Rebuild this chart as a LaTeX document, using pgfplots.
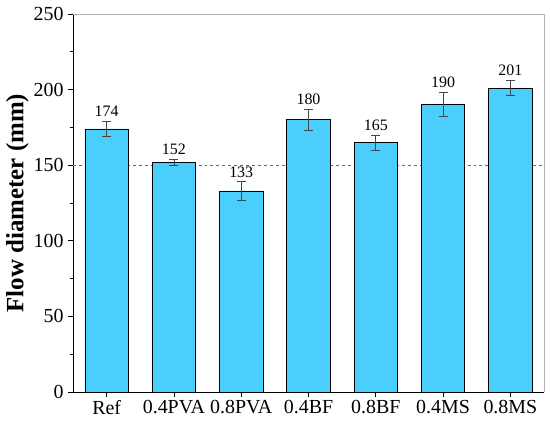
\documentclass[border=0pt]{standalone}
\usepackage{fontspec}
\setmainfont{Liberation Serif}
\usepackage{pgfplots}
\pgfplotsset{compat=1.18}
\definecolor{barc}{RGB}{74,207,253}
\definecolor{errc}{RGB}{70,70,70}
\begin{document}
\begin{tikzpicture}
\begin{axis}[
  at={(0,0)}, anchor=south west,
  scale only axis,
  width=471bp, height=378bp,
  xmin=-0.5, xmax=6.5,
  ymin=0, ymax=250,
  ytick={0,50,100,150,200,250},
  minor y tick num=1,
  xtick={0,1,2,3,4,5,6},
  xticklabels={Ref,0.4PVA,0.8PVA,0.4BF,0.8BF,0.4MS,0.8MS},
  tick align=outside,
  xtick pos=bottom, ytick pos=left,
  major tick length=5bp, minor tick length=3bp,
  tick style={black, line width=0.8pt},
  axis line style={line width=0.9pt},
  axis x line*=bottom, axis y line*=left,
  /pgf/number format/assume math mode=true,
  ticklabel style={font=\fontsize{20}{23}\selectfont},
  yticklabel style={xshift=-1bp},
  ylabel={\textbf{Flow diameter (mm)}},
  ylabel style={font=\fontsize{25}{28}\selectfont, yshift=-2bp},
  clip=false,
]
\draw[gray!60, line width=0.8pt] (rel axis cs:0,1) -- (rel axis cs:1,1) -- (rel axis cs:1,0);
\addplot[gray!80!black, dashed, line width=0.6pt, forget plot] coordinates {(-0.5,150) (6.5,150)};
\addplot[ybar, bar width=0.645, fill=barc, draw=black, line width=0.8pt,
  error bars/.cd, y dir=both, y explicit,
  error bar style={errc, line width=0.8pt},
  error mark options={rotate=90, errc, mark size=4.5bp, line width=0.8pt}]
  coordinates {
  (0,174) +- (0,5)
  (1,152) +- (0,2)
  (2,133) +- (0,6)
  (3,180) +- (0,7)
  (4,165) +- (0,5)
  (5,190) +- (0,8)
  (6,201) +- (0,5)
  };
\addplot[only marks, mark=none, nodes near coords, point meta=explicit symbolic,
  every node near coord/.append style={font=\fontsize{16}{18}\selectfont, anchor=south, yshift=1bp}]
  coordinates {
  (0,179) [174]
  (1,154) [152]
  (2,139) [133]
  (3,187) [180]
  (4,170) [165]
  (5,198) [190]
  (6,206) [201]
  };
\end{axis}
\pgfresetboundingbox
\useasboundingbox (-73bp,-36bp) rectangle (477bp,392bp);
\end{tikzpicture}
\end{document}
